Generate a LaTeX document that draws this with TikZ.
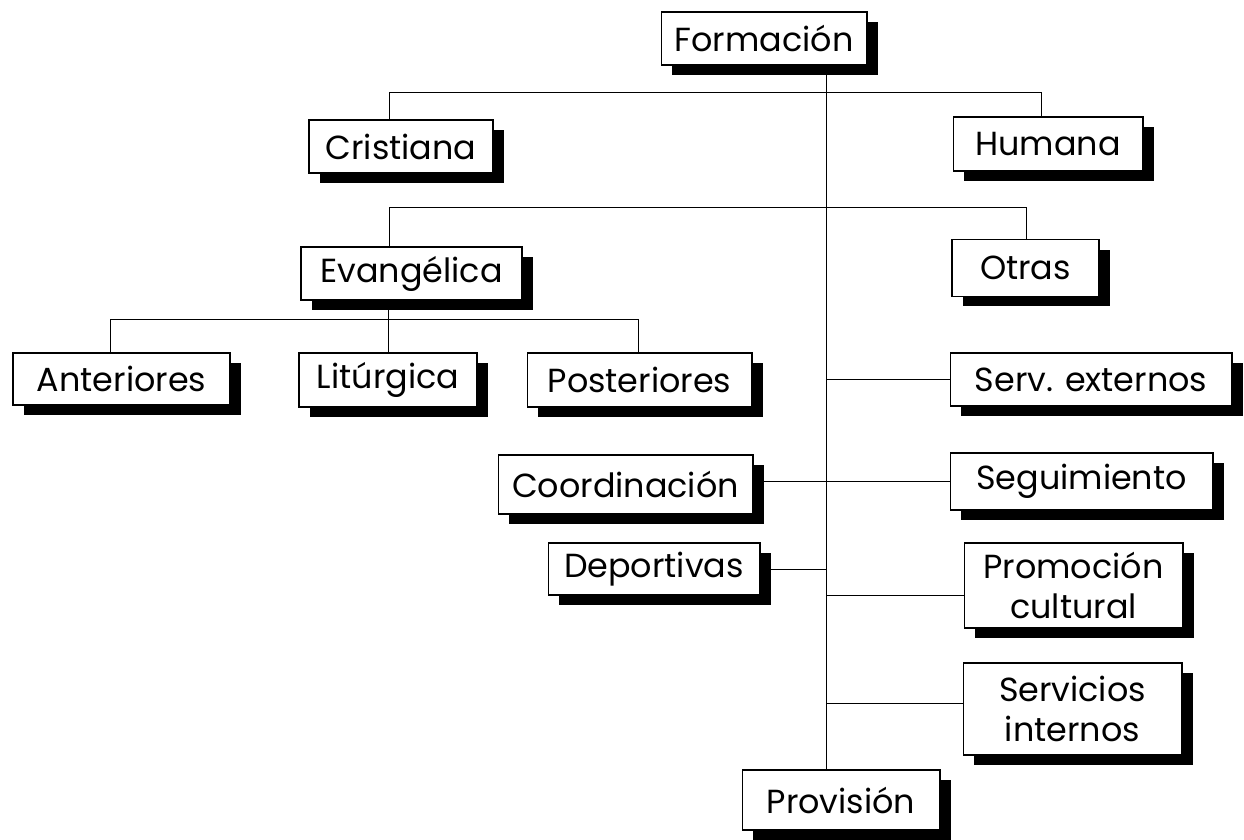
\documentclass[tikz,border=0pt]{standalone}
\usepackage{fontspec}
\setmainfont{Poppins}
\usepackage{tikz}
\usetikzlibrary{shadows, backgrounds, positioning}

\tikzset{
  caja/.style={draw, line width=0.6pt, fill=white, inner sep=0pt,
    align=center, font=\fontsize{19}{23}\selectfont,
    drop shadow={shadow xshift=0.22cm, shadow yshift=-0.2cm, opacity=1, fill=black}},
  linea/.style={line width=0.6pt, black}
}

\begin{document}
\begin{tikzpicture}[x=0.02cm, y=-0.02cm]
\useasboundingbox (0,0) rectangle (1244,839);
%
\node[caja, minimum width=4.12cm, minimum height=1.06cm] (form) at (764,38.5) {Formación};
\node[caja, minimum width=3.68cm, minimum height=1.06cm] (crist) at (401,146.5) {Cristiana};
\node[caja, minimum width=3.80cm, minimum height=1.08cm] (huma) at (1048,144) {Humana};
\node[caja, minimum width=4.42cm, minimum height=1.06cm] (evan) at (411.5,273.5) {Evangélica};
\node[caja, minimum width=2.94cm, minimum height=1.14cm] (otras) at (1025.5,268) {Otras};
\node[caja, minimum width=4.34cm, minimum height=1.04cm] (ant) at (121.5,379) {Anteriores};
\node[caja, minimum width=3.56cm, minimum height=1.08cm] (lit) at (388,380) {Litúrgica};
\node[caja, minimum width=4.50cm, minimum height=1.08cm] (post) at (639.5,380) {Posteriores};
\node[caja, minimum width=5.64cm, minimum height=1.06cm] (servext) at (1091,379.5) {Serv. externos};
\node[caja, minimum width=5.10cm, minimum height=1.18cm] (coord) at (625.5,484.5) {Coordinación};
\node[caja, minimum width=5.26cm, minimum height=1.14cm] (segui) at (1081.5,481.5) {Seguimiento};
\node[caja, minimum width=4.24cm, minimum height=1.04cm] (deport) at (654,569) {Deportivas};
\node[caja, minimum width=4.38cm, minimum height=1.70cm] (promo) at (1073.5,585.5) {Promoción\\cultural};
\node[caja, minimum width=4.38cm, minimum height=1.84cm] (servint) at (1072.5,709) {Servicios\\internos};
\node[caja, minimum width=3.96cm, minimum height=1.20cm] (prov) at (841,800) {Provisión};
%
\coordinate (trunk) at (826,0);
\coordinate (bar1) at (389,92);
\coordinate (bar1e) at (1041,92);
\coordinate (bar2) at (389,207);
\coordinate (bar2e) at (1026,207);
\coordinate (bar3) at (110,319);
\coordinate (bar3m) at (388,319);
\coordinate (bar3e) at (638,319);
\coordinate (pc) at (826,595);
\coordinate (sc) at (826,703);

\begin{scope}[on background layer, linea]
\draw (trunk |- form.south) -- (trunk |- prov.north);
\draw (bar1 |- crist.north) -- (bar1) -- (bar1e) -- (bar1e |- huma.north);
\draw (bar2 |- evan.north) -- (bar2) -- (bar2e) -- (bar2e |- otras.north);
\draw (bar3 |- ant.north) -- (bar3) -- (bar3e) -- (bar3e |- post.north);
\draw (bar3m |- evan.south) -- (bar3m |- lit.north);
\draw (trunk |- servext.west) -- (servext.west);
\draw (coord.east |- segui.west) -- (segui.west);
\draw (deport.east) -- (deport.east -| trunk);
\draw (pc) -- (pc -| promo.west);
\draw (sc) -- (sc -| servint.west);
\end{scope}
%
\end{tikzpicture}
\end{document}
